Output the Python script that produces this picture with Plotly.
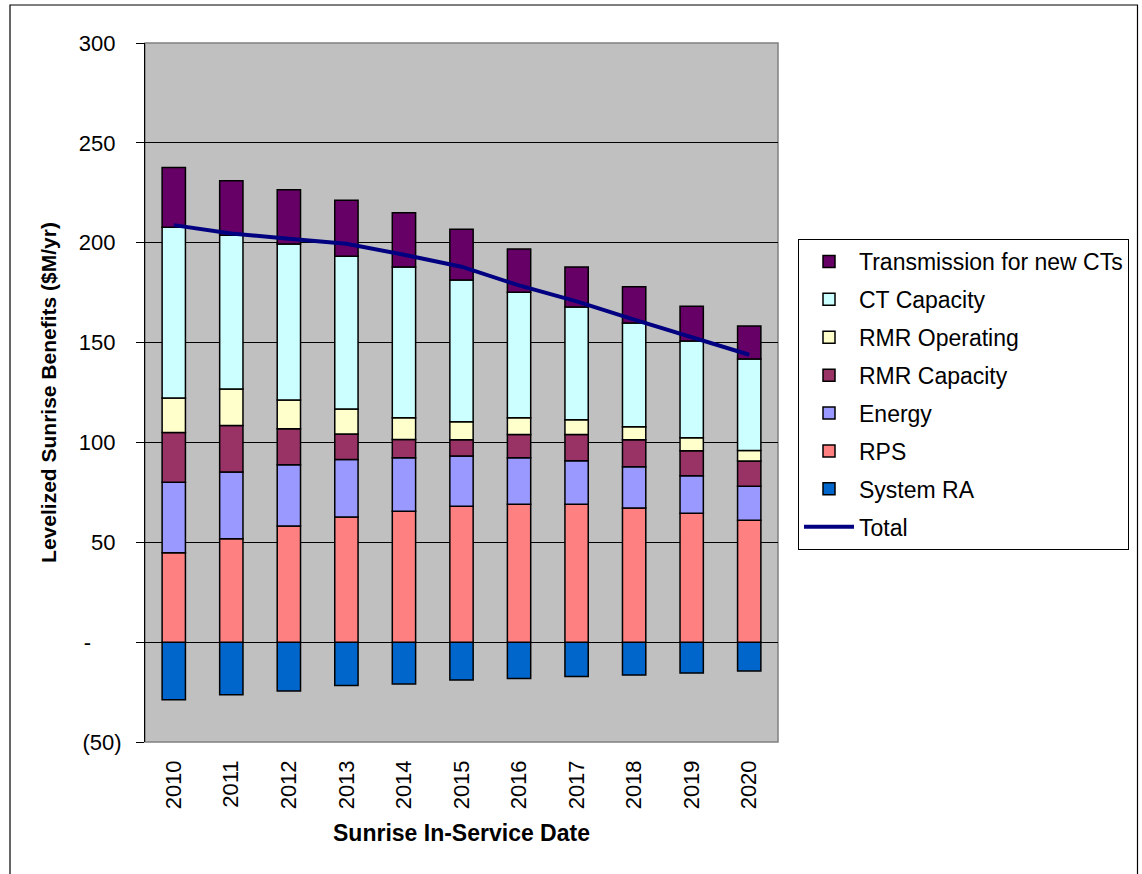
import plotly.graph_objects as go

years = ["2010", "2011", "2012", "2013", "2014", "2015", "2016", "2017", "2018", "2019", "2020"]
system_ra = [-28.9, -26.4, -24.5, -21.7, -20.9, -18.9, -18.2, -17.2, -16.5, -15.5, -14.4]
rps = [44.8, 51.8, 58.2, 62.7, 65.5, 68.0, 69.0, 69.0, 67.2, 64.5, 61.0]
energy = [35.2, 33.4, 30.6, 28.8, 26.8, 25.2, 23.3, 21.8, 20.6, 18.8, 17.0]
rmr_capacity = [25.0, 23.3, 18.0, 12.7, 9.2, 8.1, 11.7, 13.2, 13.5, 12.5, 12.7]
rmr_operating = [17.3, 18.2, 14.5, 12.6, 10.8, 9.0, 8.3, 7.3, 6.5, 6.5, 5.3]
ct_capacity = [85.4, 77.1, 78.0, 76.4, 75.5, 71.0, 62.9, 56.5, 52.0, 48.5, 45.8]
transmission = [30.0, 27.2, 27.2, 28.0, 27.2, 25.5, 21.6, 20.0, 18.2, 17.4, 16.5]
total = [208.8, 204.6, 202.0, 199.5, 194.0, 188.0, 178.6, 170.6, 161.5, 152.7, 143.9]

y_tickvals = [-50, 0, 50, 100, 150, 200, 250, 300]
y_ticktext = ["(50)", "-\u00a0\u00a0\u00a0\u00a0\u00a0", "50\u00a0", "100\u00a0", "150\u00a0",
              "200\u00a0", "250\u00a0", "300\u00a0"]

FONT = "Liberation Sans, Arial, sans-serif"
idx = list(range(len(years)))

series = [
    ("System RA", system_ra, "#0066CC", 7),
    ("RPS", rps, "#FF8080", 6),
    ("Energy", energy, "#9999FF", 5),
    ("RMR Capacity", rmr_capacity, "#993366", 4),
    ("RMR Operating", rmr_operating, "#FFFFCC", 3),
    ("CT Capacity", ct_capacity, "#CCFFFF", 2),
    ("Transmission for new CTs", transmission, "#660066", 1),
]

fig = go.Figure()
for name, vals, color, rank in series:
    fig.add_trace(go.Bar(
        x=idx, y=vals, name=name, legendrank=rank, legendgroup=name,
        marker=dict(color=color, line=dict(color="black", width=1.5)),
    ))

fig.add_trace(go.Scatter(
    x=idx, y=total, name="Total", mode="lines", legendrank=8, legendgroup="Total",
    line=dict(color="#000080", width=4),
))

# layout geometry (pixels)
L, R, T, B = 145, 778, 43, 742
W, H = 1142, 874
def px(xp):
    return (xp - L) / (R - L)
def py(yp):
    return (B - yp) / (B - T)

fig.add_shape(type="rect", xref="paper", yref="paper",
              x0=px(10), x1=px(1137.5), y0=py(5), y1=py(890),
              line=dict(color="black", width=1.2), fillcolor="rgba(0,0,0,0)")
fig.add_shape(type="rect", xref="paper", yref="paper",
              x0=0, x1=1, y0=0, y1=1,
              line=dict(color="#808080", width=1.5), fillcolor="rgba(0,0,0,0)", layer="below")

fig.update_layout(
    width=W, height=H,
    margin=dict(l=L, r=W - R, t=T, b=H - B, autoexpand=False),
    paper_bgcolor="white",
    plot_bgcolor="#C0C0C0",
    barmode="relative",
    bargap=0.595,
    font=dict(family=FONT, size=22, color="black"),
    showlegend=True,
    legend=dict(
        x=px(798), y=py(239), xanchor="left", yanchor="top",
        bgcolor="white", bordercolor="black", borderwidth=1,
        font=dict(family=FONT, size=23, color="black"),
        traceorder="grouped", tracegroupgap=5, itemwidth=50,
    ),
    xaxis=dict(
        range=[-0.5, 10.5], tickmode="array", tickvals=idx, ticktext=years,
        tickangle=-90, showgrid=False, zeroline=False, showline=False, ticks="",
        ticklabelstandoff=13, tickfont=dict(size=22),
        title=dict(text="<b>Sunrise In-Service Date</b>", font=dict(size=23), standoff=16),
    ),
    xaxis2=dict(
        overlaying="x", anchor="free", position=50 / 350, range=[-0.5, 10.5],
        tickmode="array", tickvals=[i - 0.5 for i in range(len(years) + 1)],
        ticks="outside", ticklen=6, tickcolor="black", tickwidth=1,
        showticklabels=False, showline=True, linecolor="black", linewidth=1,
        showgrid=False, zeroline=False,
    ),
    yaxis=dict(
        range=[-50, 300], tickmode="array", tickvals=y_tickvals, ticktext=y_ticktext,
        showgrid=True, gridcolor="black", gridwidth=1, zeroline=False,
        showline=True, linecolor="black", linewidth=1,
        ticks="outside", ticklen=8, tickcolor="black",
        ticklabelstandoff=10, tickfont=dict(size=22),
        title=dict(text="<b>Levelized Sunrise Benefits ($M/yr)</b>", font=dict(size=21), standoff=16),
    ),
)

fig.write_html("out.html")
